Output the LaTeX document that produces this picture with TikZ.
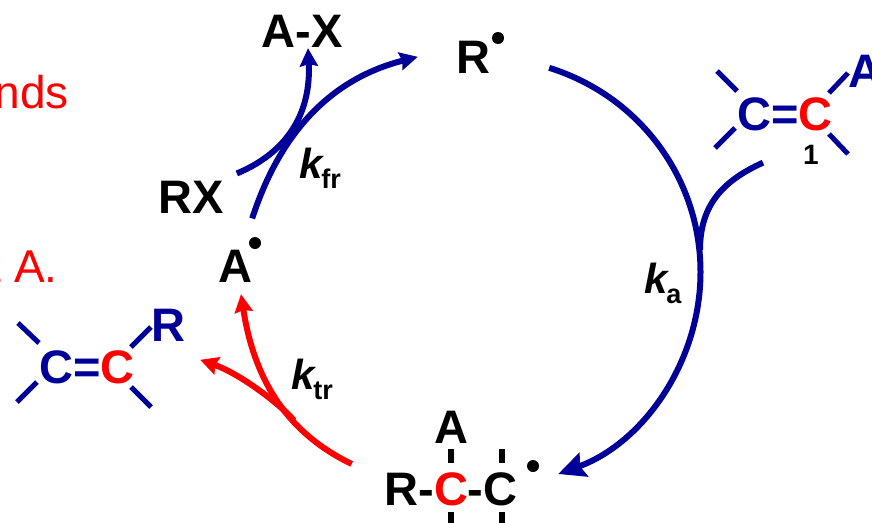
\documentclass[tikz,border=0pt]{standalone}
\usepackage{fontspec}
\setmainfont{Liberation Sans}
\usepackage{xcolor}
\definecolor{chainblue}{RGB}{0, 0, 153}
\definecolor{chainred}{RGB}{255, 0, 0}
\usepackage{tikz}
\usetikzlibrary{arrows.meta, positioning, calc}
\newcommand{\rateconst}[1]{\textit{k}\kern-3pt\raisebox{-10pt}{\fontsize{27}{29}\selectfont #1}}

\begin{document}
\begin{tikzpicture}[x=1pt, y=-1pt]

        % Estilos
        \tikzstyle{species} = [inner sep=0pt, anchor=base, font=\fontsize{47}{50}\selectfont\bfseries]
        \tikzstyle{rate} = [inner sep=0pt, anchor=base west, font=\fontsize{42}{46}\selectfont\bfseries]
        \tikzstyle{note} = [inner sep=0pt, anchor=base east, text=chainred, font=\fontsize{46}{50}\selectfont]
        \tikzstyle{radical} = [circle, fill=black, inner sep=0pt, minimum size=12pt]
        \tikzstyle{bond} = [line width=5pt, draw=chainblue]
        \tikzstyle{sigma} = [line width=5.6pt, draw=black]
        \tikzstyle{route} = [line width=6pt, draw=chainblue, -{Stealth[length=18pt, width=18pt, inset=2pt]}]
        \tikzstyle{redroute} = [line width=6pt, draw=chainred, -{Stealth[length=18pt, width=18pt, inset=2pt]}]

        \useasboundingbox (0,0) rectangle (872,522);

        % Textos cortados na margem
        \node [note] (noteTop) at (69,108) {nds};
        \node [note] (noteLow) at (58,282) {t A.};

        % Especies do ciclo
        \node [species] (prodAX) at (302,47) {A-X};
        \node [species] (halRX) at (191,213) {RX};
        \node [species] (radA) at (235,282) {A};
        \node [radical] (dotA) at (255,243) {};
        \node [species] (radR) at (473,73) {R};
        \node [radical] (dotR) at (498,38) {};

        % Monomero 1
        \node [species] (monoA) at (785,130) {\textcolor{chainblue}{C=}\textcolor{chainred}{C}};
        \node [species, anchor=base west, text=chainblue] (monoSub) at (848,87) {A};
        \node [species, font=\fontsize{28}{30}\selectfont\bfseries] (monoNum) at (811,164) {1};
        \draw [bond] ($(monoA.base)+(-68,-59)$) -- ($(monoA.base)+(-48,-39)$);
        \draw [bond] ($(monoA.base)+(-70,18)$) -- ($(monoA.base)+(-50,-2)$);
        \draw [bond] ($(monoA.base)+(63,-57)$) -- ($(monoA.base)+(44,-37)$);
        \draw [bond] ($(monoA.base)+(44,4)$) -- ($(monoA.base)+(63,24)$);

        % Produto de transferencia
        \node [species] (monoR) at (87,383) {\textcolor{chainblue}{C=}\textcolor{chainred}{C}};
        \node [species, text=chainblue] (monoRsub) at (168,341) {R};
        \draw [bond] ($(monoR.base)+(-69,-60)$) -- ($(monoR.base)+(-48,-40)$);
        \draw [bond] ($(monoR.base)+(-70,19)$) -- ($(monoR.base)+(-50,-1)$);
        \draw [bond] ($(monoR.base)+(64,-56)$) -- ($(monoR.base)+(44,-36)$);
        \draw [bond] ($(monoR.base)+(44,4)$) -- ($(monoR.base)+(64,24)$);

        % Aduto
        \node [species] (adduct) at (451,505) {R-\textcolor{chainred}{C}-C};
        \node [species] (adductA) at (451,443) {A};
        \node [radical] (dotC) at (533,466) {};
        \draw [sigma] ($(adduct.base)+(0,-56)$) -- ($(adduct.base)+(0,-42)$);
        \draw [sigma] ($(adduct.base)+(51,-56)$) -- ($(adduct.base)+(51,-42)$);
        \draw [sigma] ($(adduct.base)+(0,7)$) -- ($(adduct.base)+(0,30)$);
        \draw [sigma] ($(adduct.base)+(51,7)$) -- ($(adduct.base)+(51,30)$);

        % Constantes
        \node [rate] (kfr) at (299,178) {\rateconst{fr}};
        \node [rate] (ka) at (644,293) {\rateconst{a}};
        \node [rate] (ktr) at (291,389) {\rateconst{tr}};

        % Rotas azuis
        \draw [route] ($(radA.north east)+(0,-31)$) .. controls +(28,-86) and +(-87,22) .. ($(radR.west)+(-38,0)$);
        \draw [route] ($(halRX.north east)+(13,-7)$) .. controls +(55,-23) and +(3,60) .. ($(prodAX.south)+(6,1)$);

        \coordinate (kaJoin) at (700,250);
        \draw [route, -{Stealth[length=27pt, width=25pt, inset=4pt]}] ($(radR.east)+(59,11)$)
            .. controls +(90,28) and +(0,-94) .. (700.5,272)
            .. controls +(0,90) and +(85,-31) .. ($(dotC.east)+(19,8)$);
        \draw [route, -] ($(monoA.south)+(-22,32)$) .. controls +(-40,18) and +(0,-45) .. (kaJoin);

        % Rotas vermelhas
        \coordinate (trFork) at (294,420.5);
        \draw [redroute] ($(adduct.north west)+(-32.5,-8)$) .. controls +(-54,-26) and +(15,98) .. ($(radA.south)+(6,12)$);
        \draw [redroute] (trFork) .. controls +(-14,-16.5) and +(40,14) .. ($(monoRsub.east)+(15,35)$);

    \end{tikzpicture}
\end{document}
